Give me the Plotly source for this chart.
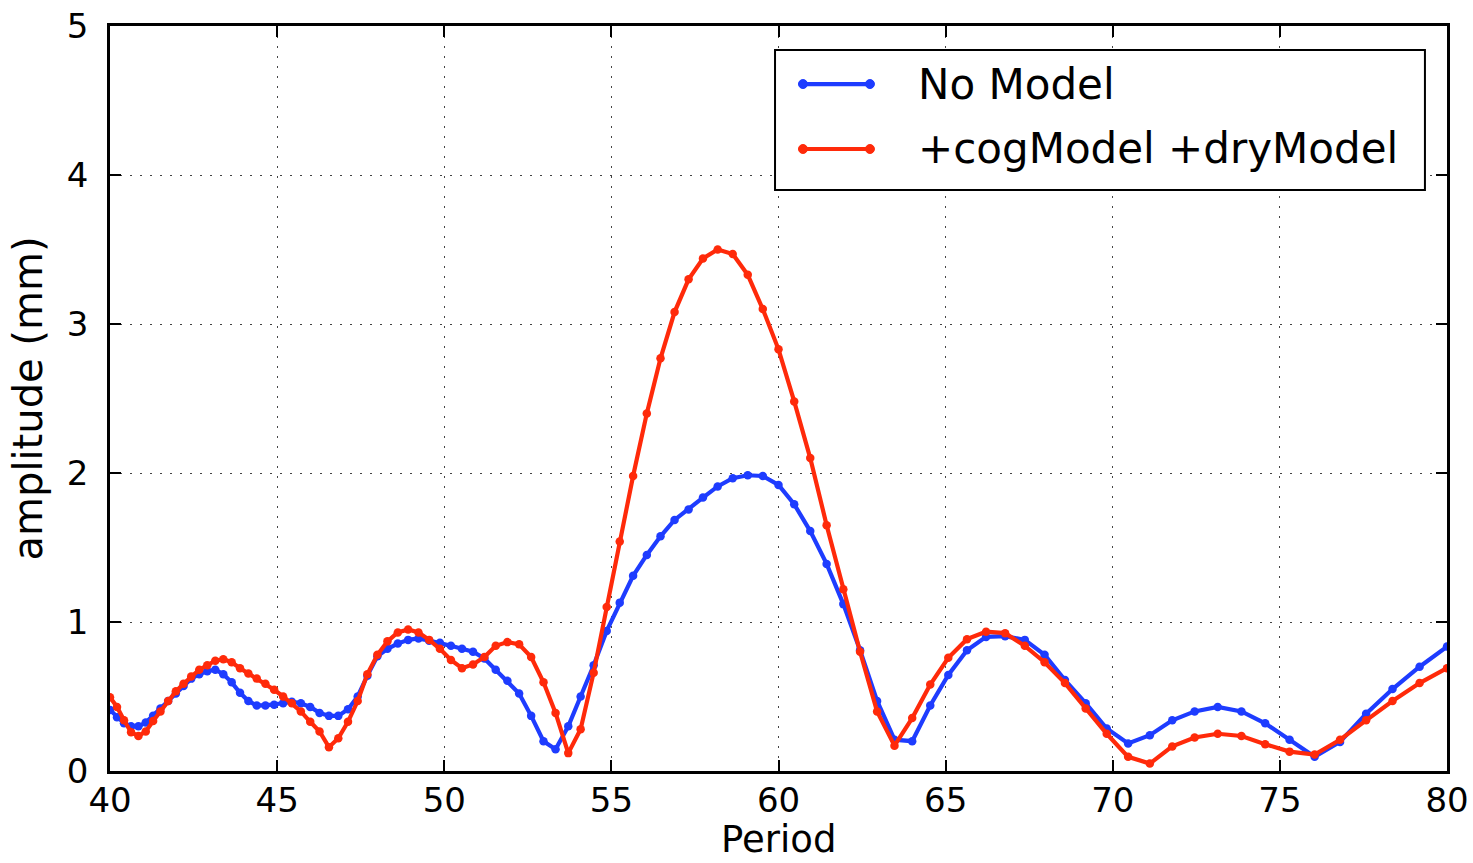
import plotly.graph_objects as go

# Period grid (evenly spaced in frequency between 1/80 and 1/40)
period = [
    40.00, 40.21, 40.42, 40.63, 40.85, 41.07, 41.29, 41.51, 41.74, 41.97,
    42.20, 42.43, 42.67, 42.91, 43.15, 43.39, 43.64, 43.89, 44.14, 44.39,
    44.65, 44.91, 45.18, 45.44, 45.71, 45.99, 46.27, 46.55, 46.83, 47.12,
    47.41, 47.70, 48.00, 48.30, 48.61, 48.92, 49.23, 49.55, 49.87, 50.20,
    50.53, 50.86, 51.20, 51.54, 51.89, 52.24, 52.60, 52.97, 53.33, 53.71,
    54.08, 54.47, 54.86, 55.25, 55.65, 56.06, 56.47, 56.89, 57.31, 57.74,
    58.18, 58.63, 59.08, 59.53, 60.00, 60.47, 60.95, 61.44, 61.94, 62.44,
    62.95, 63.47, 64.00, 64.54, 65.08, 65.64, 66.21, 66.78, 67.37, 67.96,
    68.57, 69.19, 69.82, 70.46, 71.11, 71.78, 72.45, 73.14, 73.85, 74.56,
    75.29, 76.04, 76.80, 77.58, 78.37, 79.18, 80.00,
]

no_model = [
    0.41, 0.36, 0.32, 0.30, 0.30, 0.325, 0.37, 0.42, 0.47, 0.52,
    0.57, 0.62, 0.65, 0.67, 0.68, 0.65, 0.595, 0.525, 0.47, 0.44,
    0.44, 0.445, 0.455, 0.465, 0.455, 0.43, 0.39, 0.37, 0.37, 0.415,
    0.50, 0.64, 0.77, 0.82, 0.855, 0.88, 0.89, 0.875, 0.86, 0.84,
    0.82, 0.80, 0.755, 0.68, 0.605, 0.52, 0.37, 0.20, 0.146, 0.30,
    0.50, 0.71, 0.94, 1.13, 1.31, 1.45, 1.575, 1.685, 1.755, 1.835,
    1.91, 1.965, 1.985, 1.98, 1.92, 1.79, 1.61, 1.39, 1.12, 0.81,
    0.47, 0.21, 0.20, 0.44, 0.645, 0.81, 0.90, 0.905, 0.88, 0.78,
    0.61, 0.455, 0.285, 0.185, 0.24, 0.34, 0.40, 0.43, 0.40, 0.32,
    0.21, 0.095, 0.195, 0.385, 0.55, 0.70, 0.835,
]

cog_dry_model = [
    0.495, 0.43, 0.34, 0.26, 0.235, 0.265, 0.335, 0.40, 0.47, 0.535,
    0.585, 0.635, 0.68, 0.71, 0.74, 0.75, 0.73, 0.69, 0.655, 0.62,
    0.585, 0.545, 0.50, 0.455, 0.40, 0.33, 0.265, 0.16, 0.22, 0.33,
    0.47, 0.65, 0.78, 0.87, 0.93, 0.95, 0.93, 0.88, 0.82, 0.745,
    0.69, 0.715, 0.765, 0.84, 0.865, 0.85, 0.765, 0.595, 0.39, 0.12,
    0.28, 0.66, 1.10, 1.54, 1.98, 2.40, 2.77, 3.08, 3.30, 3.44,
    3.50, 3.47, 3.33, 3.10, 2.83, 2.48, 2.10, 1.65, 1.22, 0.80,
    0.40, 0.17, 0.355, 0.58, 0.76, 0.885, 0.935, 0.925, 0.84, 0.73,
    0.59, 0.42, 0.25, 0.095, 0.05, 0.165, 0.225, 0.25, 0.235, 0.18,
    0.13, 0.11, 0.21, 0.34, 0.47, 0.59, 0.69,
]

series_names = ["No Model", "+cogModel +dryModel"]
series_colors = ["#1e3cff", "#ff2a0a"]

x_ticks = [40, 45, 50, 55, 60, 65, 70, 75, 80]
y_ticks = [0, 1, 2, 3, 4, 5]
x_label = "Period"
y_label = "amplitude (mm)"

FONT = "DejaVu Sans"

fig = go.Figure()
for name, vals, col in zip(series_names, [no_model, cog_dry_model], series_colors):
    fig.add_trace(go.Scatter(
        x=period, y=vals, name=name, mode="lines+markers",
        line=dict(color=col, width=4.2),
        marker=dict(color=col, size=8.5, symbol="circle"),
        showlegend=False,
    ))

axis_common = dict(
    showline=True, linecolor="black", linewidth=2.5, mirror="ticks",
    ticks="inside", ticklen=11, tickwidth=1.5, tickcolor="black",
    showgrid=True, gridcolor="#444444", gridwidth=1.2, griddash="2px,8px",
    zeroline=False, automargin=False,
    tickfont=dict(family=FONT, size=34, color="black"),
)

fig.update_xaxes(
    range=[40, 80], tickvals=x_ticks, ticktext=[str(v) for v in x_ticks],
    ticklabelstandoff=-3,
    **axis_common,
)
fig.update_yaxes(
    range=[0, 5], tickvals=y_ticks, ticktext=[str(v) for v in y_ticks],
    title=dict(text=y_label, font=dict(family=FONT, size=40, color="black"), standoff=12),
    ticklabelstandoff=12,
    **axis_common,
)

# Legend box drawn in paper coordinates
shapes = [dict(type="rect", xref="paper", yref="paper",
               x0=0.4974, x1=0.9835, y0=0.7799, y1=0.9678,
               line=dict(color="black", width=2), fillcolor="white", layer="above")]
annotations = []
rows_y = [0.9221, 0.8349]
sx0, sx1 = 0.5183, 0.5684
rx, ry = 4.5 / 1337, 4.5 / 745
for name, col, yy in zip(series_names, series_colors, rows_y):
    shapes.append(dict(type="line", xref="paper", yref="paper",
                       x0=sx0, x1=sx1, y0=yy, y1=yy,
                       line=dict(color=col, width=4.2), layer="above"))
    for cx in (sx0, sx1):
        shapes.append(dict(type="circle", xref="paper", yref="paper",
                           x0=cx - rx, x1=cx + rx, y0=yy - ry, y1=yy + ry,
                           line=dict(color=col, width=1), fillcolor=col, layer="above"))
    annotations.append(dict(xref="paper", yref="paper", x=0.6028, y=yy,
                            xanchor="left", yanchor="middle", showarrow=False,
                            text=name, font=dict(family=FONT, size=42, color="black")))

# x-axis title sitting at the bottom edge, under the tick labels
annotations.append(dict(xref="paper", yref="paper", x=0.5, y=-0.1221,
                        xanchor="center", yanchor="bottom", showarrow=False,
                        borderpad=0, text=x_label,
                        font=dict(family=FONT, size=37, color="black")))

fig.update_layout(
    width=1473, height=863,
    margin=dict(l=110, r=26, t=26, b=92),
    paper_bgcolor="white", plot_bgcolor="white",
    shapes=shapes, annotations=annotations,
    font=dict(family=FONT, color="black"),
)

fig.write_html("out.html")
